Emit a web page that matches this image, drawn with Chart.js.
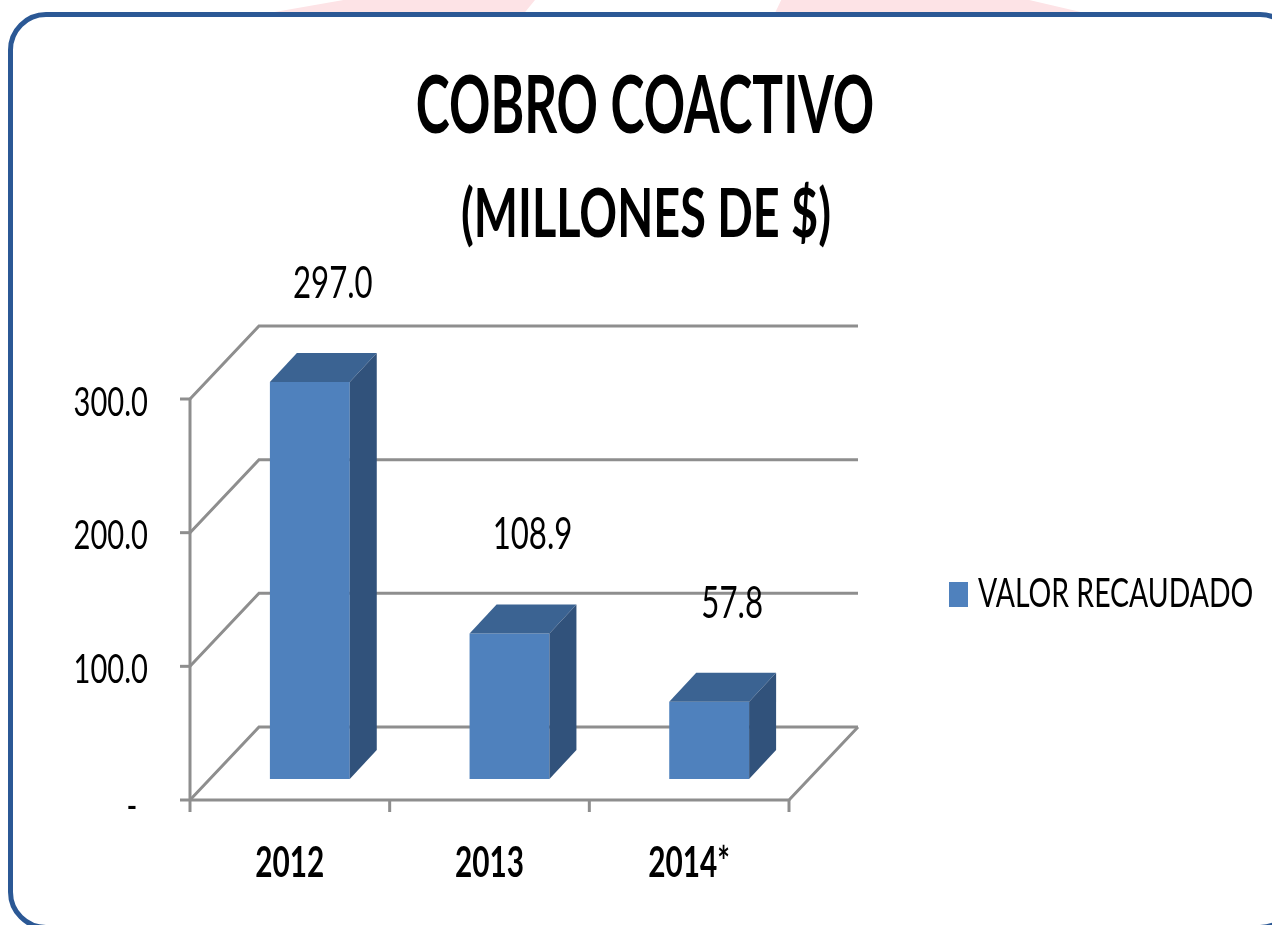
<!DOCTYPE html>
<html>
<head>
<meta charset="utf-8">
<script src="https://cdn.jsdelivr.net/npm/chart.js@4.4.1/dist/chart.umd.min.js"></script>
<style>
  html, body { margin: 0; padding: 0; background: #ffffff; }
  body { width: 1272px; height: 925px; position: relative; overflow: hidden; }
  .pink { position: absolute; top: 0; height: 13px; background: #fde3e6; }
  #p1 { left: 269px; width: 266px; clip-path: polygon(0 100%, 28% 0, 100% 0, 96% 100%); }
  #p2 { left: 775px; width: 310px; clip-path: polygon(0 100%, 2% 0, 82% 0, 100% 100%); }
  .frame { position: absolute; left: 8px; top: 12px; width: 1290px; height: 918px; box-sizing: border-box;
           border: 5px solid #2b5895; border-radius: 38px; }
  canvas { position: absolute; left: 0; top: 0; }
</style>
</head>
<body>
<div class="pink" id="p1"></div>
<div class="pink" id="p2"></div>
<div class="frame"></div>
<canvas id="c" width="1272" height="925"></canvas>
<script>
// ---- data ----
const categories = ['2012', '2013', '2014*'];
const values = [297.0, 108.9, 57.8];
const yTicks = [0, 100, 200, 300];
const seriesName = 'VALOR RECAUDADO';
const titleLines = ['COBRO COACTIVO', '(MILLONES DE $)'];

// ---- styling ----
const FAMILY = 'Lato, "Open Sans", sans-serif';
const FRONT = '#4f81bd', TOP = '#3b6392', SIDE = '#31527b';
const GRID = '#8e8e8e';
const WALL = { dx: 69, dy: -73 };     // depth of the 3D box
const BAR_SHIFT = { dx: 20, dy: -21 }; // bar front face depth
const BAR_DEPTH = { dx: 27, dy: -29 };

function capRatio(ctx, weight) {
  ctx.font = weight + ' 100px ' + FAMILY;
  return ctx.measureText('H').actualBoundingBoxAscent / 100;
}
function inkWidth(ctx, s) {
  const m = ctx.measureText(s);
  return m.actualBoundingBoxLeft + m.actualBoundingBoxRight;
}
// role: font size chosen from a cap height, horizontal squeeze from a reference ink width
function makeRole(ctx, weight, capPx, refText, refInk) {
  const size = capPx / capRatio(ctx, weight);
  ctx.font = weight + ' ' + size + 'px ' + FAMILY;
  const sx = refInk / inkWidth(ctx, refText);
  return { font: weight + ' ' + size + 'px ' + FAMILY, sx, cap: capPx };
}
function drawText(ctx, role, s, x, cy, align) {
  ctx.save();
  ctx.font = role.font;
  ctx.fillStyle = '#000';
  ctx.textBaseline = 'alphabetic';
  ctx.textAlign = align || 'center';
  ctx.translate(x, cy + role.cap / 2);
  ctx.scale(role.sx, 1);
  ctx.fillText(s, 0, 0);
  ctx.restore();
}

const box3d = {
  id: 'box3d',
  beforeDatasetsDraw(chart) {
    const { ctx, chartArea: a, scales: { x, y } } = chart;
    ctx.save();
    ctx.strokeStyle = GRID;
    ctx.lineWidth = 3;
    ctx.lineCap = 'butt';
    // side wall diagonals + back wall gridlines
    yTicks.forEach(v => {
      const py = y.getPixelForValue(v);
      ctx.beginPath();
      ctx.moveTo(a.left, py);
      ctx.lineTo(a.left + WALL.dx, py + WALL.dy);
      ctx.lineTo(a.right + WALL.dx, py + WALL.dy);
      ctx.stroke();
    });
    // floor: front edge and right edge
    const y0 = y.getPixelForValue(0);
    ctx.beginPath();
    ctx.moveTo(a.left, y0);
    ctx.lineTo(a.right, y0);
    ctx.lineTo(a.right + WALL.dx, y0 + WALL.dy);
    ctx.stroke();
    // front vertical axis
    ctx.beginPath();
    ctx.moveTo(a.left, y0);
    ctx.lineTo(a.left, y.getPixelForValue(yTicks[yTicks.length - 1]));
    ctx.stroke();
    // y tick marks
    yTicks.forEach(v => {
      const py = y.getPixelForValue(v);
      ctx.beginPath();
      ctx.moveTo(a.left - 10, py);
      ctx.lineTo(a.left, py);
      ctx.stroke();
    });
    // x tick marks at category boundaries
    const band = x.getPixelForValue(1) - x.getPixelForValue(0);
    for (let i = 0; i <= categories.length; i++) {
      const px = x.getPixelForValue(0) - band / 2 + i * band;
      ctx.beginPath();
      ctx.moveTo(px, y0);
      ctx.lineTo(px, y0 + 12);
      ctx.stroke();
    }
    ctx.restore();
    ctx.save();
    ctx.translate(BAR_SHIFT.dx, BAR_SHIFT.dy);
  },
  afterDatasetsDraw(chart) {
    const { ctx, scales: { x, y } } = chart;
    ctx.restore();
    const meta = chart.getDatasetMeta(0);
    meta.data.forEach(bar => {
      const p = bar.getProps(['x', 'y', 'base', 'width'], true);
      const L = p.x - p.width / 2 + BAR_SHIFT.dx, R = p.x + p.width / 2 + BAR_SHIFT.dx;
      const T = p.y + BAR_SHIFT.dy, B = p.base + BAR_SHIFT.dy;
      ctx.fillStyle = TOP;
      ctx.beginPath();
      ctx.moveTo(L, T); ctx.lineTo(L + BAR_DEPTH.dx, T + BAR_DEPTH.dy);
      ctx.lineTo(R + BAR_DEPTH.dx, T + BAR_DEPTH.dy); ctx.lineTo(R, T); ctx.closePath();
      ctx.fill();
      ctx.fillStyle = SIDE;
      ctx.beginPath();
      ctx.moveTo(R, T); ctx.lineTo(R + BAR_DEPTH.dx, T + BAR_DEPTH.dy);
      ctx.lineTo(R + BAR_DEPTH.dx, B + BAR_DEPTH.dy); ctx.lineTo(R, B); ctx.closePath();
      ctx.fill();
    });

    // text roles
    const rTitle1 = makeRole(ctx, 'bold', 58, titleLines[0], 455);
    const rTitle2 = makeRole(ctx, 'bold', 49, titleLines[1], 367);
    const rTick = makeRole(ctx, 'normal', 29, '300.0', 73);
    const rLabel = makeRole(ctx, 'normal', 32, '297.0', 78);
    const rCat = makeRole(ctx, 'bold', 30, '2012', 67);
    const rLegend = makeRole(ctx, 'normal', 30, seriesName, 274);

    // title
    drawText(ctx, rTitle1, titleLines[0], 645, 104);
    drawText(ctx, rTitle2, titleLines[1], 646, 212);

    // y tick labels
    const a = chart.chartArea;
    yTicks.forEach(v => {
      const py = y.getPixelForValue(v) + 2;
      if (v === 0) drawText(ctx, rTick, '-', a.left - 58, py + 3, 'center');
      else drawText(ctx, rTick, v.toFixed(1), a.left - 42, py, 'right');
    });

    // category labels
    categories.forEach((c, i) => {
      drawText(ctx, rCat, c, x.getPixelForValue(i), 862);
    });

    // data labels
    meta.data.forEach((bar, i) => {
      drawText(ctx, rLabel, values[i].toFixed(1), bar.x + BAR_SHIFT.dx + 23, bar.y + BAR_SHIFT.dy - 100);
    });

    // legend
    ctx.fillStyle = FRONT;
    ctx.fillRect(949, 582, 19, 25);
    drawText(ctx, rLegend, seriesName, 978, 592, 'left');
  }
};

function build() {
  new Chart(document.getElementById('c'), {
    type: 'bar',
    data: {
      labels: categories,
      datasets: [{ label: seriesName, data: values, backgroundColor: FRONT, borderWidth: 0,
                   categoryPercentage: 1.0, barPercentage: 0.4 }]
    },
    options: {
      responsive: false,
      devicePixelRatio: 1,
      animation: false,
      layout: { padding: { left: 190, right: 483, top: 399, bottom: 125 } },
      scales: {
        x: { display: false },
        y: { display: false, min: 0, max: 300 }
      },
      plugins: { legend: { display: false }, title: { display: false }, tooltip: { enabled: false } }
    },
    plugins: [box3d]
  });
}
if (document.fonts && document.fonts.load) {
  Promise.all([document.fonts.load('bold 40px Lato'), document.fonts.load('40px Lato')]).then(build, build);
} else build();
</script>
</body>
</html>
